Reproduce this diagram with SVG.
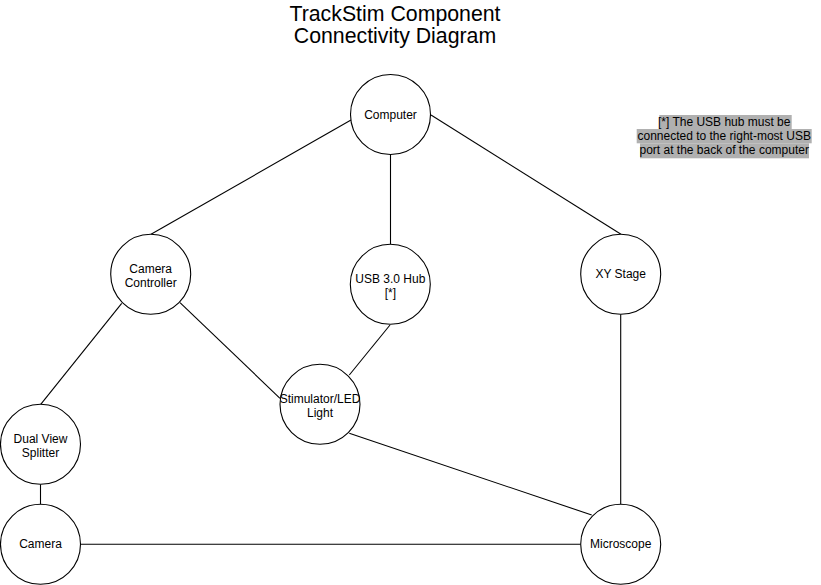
<svg xmlns="http://www.w3.org/2000/svg" width="821" height="585" viewBox="0 0 821 585">
<style>
.node circle{fill:#ffffff;stroke:#000000;stroke-width:1.1}
.node text,.note text{font-family:"Liberation Sans",Arial,Helvetica,sans-serif;font-size:12px;fill:#000000;text-anchor:middle}
.edges line{stroke:#000000;stroke-width:1.1;fill:none}
.title{font-family:"Liberation Sans",Arial,Helvetica,sans-serif;font-size:21.3px;fill:#000000;text-anchor:middle}
.hl{fill:#b0b0b0}
</style>
<rect width="821" height="585" fill="#ffffff"/>
<g id="title">
<text class="title" x="395" y="21">TrackStim Component</text>
<text class="title" x="395" y="43">Connectivity Diagram</text>
</g>
<g class="edges" id="connectors">
<line x1="351" y1="120" x2="151" y2="234.3"/>
<line x1="431" y1="115" x2="621" y2="234.3"/>
<line x1="390.5" y1="154.5" x2="390.5" y2="244.3"/>
<line x1="121.7" y1="303.3" x2="40.7" y2="404.3"/>
<line x1="180" y1="302.7" x2="280" y2="398.3"/>
<line x1="390" y1="325" x2="349.3" y2="375"/>
<line x1="349.3" y1="433.3" x2="591.7" y2="515"/>
<line x1="620.7" y1="314.3" x2="620.7" y2="504.3"/>
<line x1="40.5" y1="484.3" x2="40.5" y2="504.3"/>
<line x1="80.5" y1="544.3" x2="580.7" y2="544.3"/>
</g>
<g class="node" id="computer">
<circle cx="390.5" cy="114.5" r="40"/>
<text x="390.5" y="118.5">Computer</text>
</g>
<g class="node" id="camera-controller">
<circle cx="150.7" cy="274.3" r="40"/>
<text x="150.7" y="272.5">Camera</text>
<text x="150.7" y="286.5">Controller</text>
</g>
<g class="node" id="usb-hub">
<circle cx="390.3" cy="284.3" r="40"/>
<text x="390.3" y="282.5">USB 3.0 Hub</text>
<text x="390.3" y="296.5">[*]</text>
</g>
<g class="node" id="xy-stage">
<circle cx="620.7" cy="274.3" r="40"/>
<text x="620.7" y="278.3">XY Stage</text>
</g>
<g class="node" id="stimulator">
<circle cx="320" cy="404.3" r="40"/>
<text x="320" y="402.5">Stimulator/LED</text>
<text x="320" y="416.5">Light</text>
</g>
<g class="node" id="dual-view-splitter">
<circle cx="40.5" cy="444.3" r="40"/>
<text x="40.5" y="442.5">Dual View</text>
<text x="40.5" y="456.5">Splitter</text>
</g>
<g class="node" id="camera">
<circle cx="40.5" cy="544.3" r="40"/>
<text x="40.5" y="548.3">Camera</text>
</g>
<g class="node" id="microscope">
<circle cx="620.7" cy="544.3" r="40"/>
<text x="620.7" y="548.3">Microscope</text>
</g>
<g class="note" id="usb-note">
<rect class="hl" x="659.3" y="115" width="132.4" height="14"/>
<rect class="hl" x="636.7" y="129" width="175" height="14.3"/>
<rect class="hl" x="640" y="143.3" width="169" height="15"/>
<text x="724.2" y="126">[*] The USB hub must be</text>
<text x="724.2" y="140">connected to the right-most USB</text>
<text x="724.2" y="154">port at the back of the computer</text>
</g>
</svg>
